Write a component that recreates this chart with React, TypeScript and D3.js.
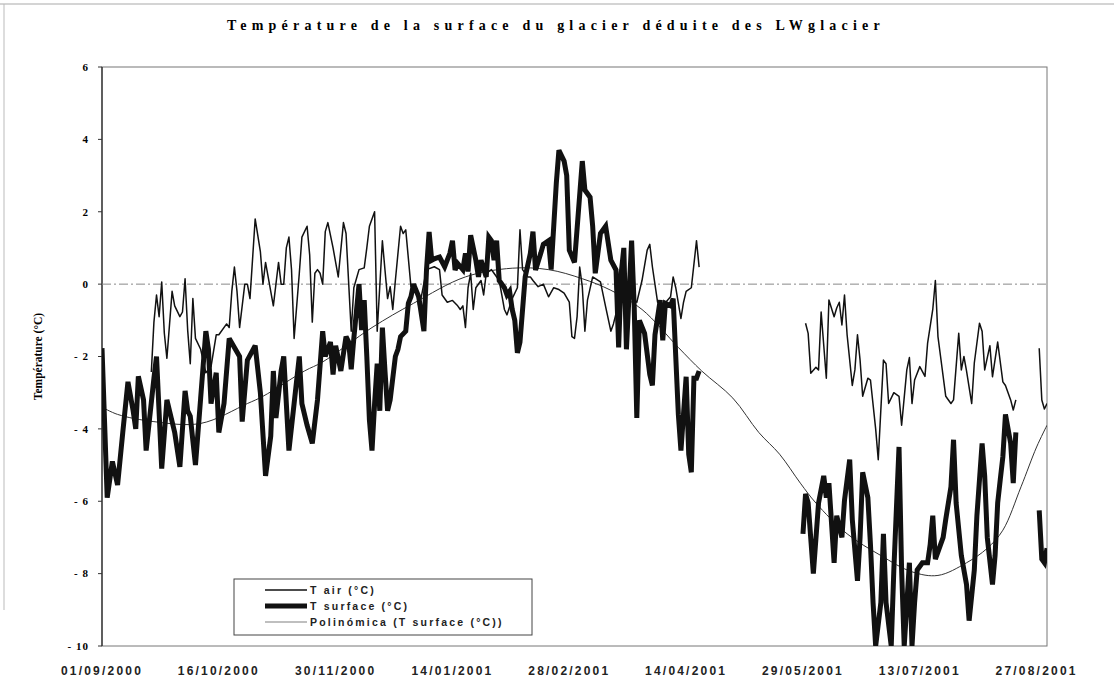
import React from "react";
import * as d3 from "d3";

const START = Date.UTC(2000, 8, 1);
const END = Date.UTC(2001, 7, 31);

const xTickLabels = ["01/09/2000", "16/10/2000", "30/11/2000", "14/01/2001", "28/02/2001", "14/04/2001", "29/05/2001", "13/07/2001", "27/08/2001"];
const yTicks = [6, 4, 2, 0, -2, -4, -6, -8, -10];

// [day offset from 01/09/2000, °C]
const tSurfaceSeg1: [number, number][] = [[0,-1.77],[2,-5.9],[4,-4.9],[6,-5.55],[8,-4.1],[10,-2.7],[12,-3.5],[13,-4.0],[14,-2.55],[16,-3.2],[17,-4.6],[20,-2.6],[21,-2.0],[23,-5.1],[25,-3.2],[26,-3.5],[28,-4.1],[30,-5.05],[32,-2.95],[33,-3.5],[34,-3.65],[36,-5.0],[38,-3.15],[40,-1.3],[41,-1.8],[42,-3.3],[44,-2.45],[45,-4.1],[47,-3.3],[49,-1.5],[51,-1.75],[53,-2.0],[54,-3.8],[56,-2.1],[59,-1.7],[61,-3.0],[63,-5.3],[65,-4.2],[66,-2.4],[67,-3.7],[69,-2.4],[70,-2.0],[72,-4.6],[74,-3.3],[76,-2.0],[77,-3.3],[79,-3.9],[81,-4.4],[83,-3.2],[85,-1.3],[86,-2.0],[88,-1.6],[89,-2.5],[90,-1.7],[92,-2.4],[94,-1.45],[95,-1.6],[96,-2.35],[97,-1.5],[99,0],[100,-1.27],[101,-0.44],[102,-2.0],[103,-3.75],[104,-4.6],[105,-3.3],[106,-2.2],[107,-3.5],[108,-1.2],[109,-2.4],[110,-3.5],[111,-3.2],[113,-2.0],[114,-1.8],[115,-1.45],[117,-1.3],[118,-0.53],[119,-0.35],[120,0],[122,-0.35],[124,-1.3],[125,0.4],[126,1.44],[127,0.66],[128,0.7],[130,0.75],[132,0.48],[134,0.85],[135,1.2],[136,0.39],[137,0.57],[139,0.4],[140,0.85],[141,0.35],[142,1.35],[144,0.66],[145,0.2],[146,0.66],[148,0.2],[149,1.3],[150,1.2],[151,0.66],[152,1.2],[153,0.1],[155,-0.1],[156,-0.3],[157,-0.2],[158,-0.7],[159,-1.0],[160,-1.9],[161,-1.6],[163,0.2],[165,0.85],[166,1.45],[167,0.39],[169,0.85],[170,1.1],[172,1.2],[173,0.4],[175,2.8],[176,3.7],[178,3.4],[179,3.0],[180,0.94],[182,0.6],[185,3.4],[186,2.6],[188,2.4],[189,1.6],[190,0.3],[192,1.4],[194,1.6],[196,0.66],[198,0.39],[199,-1.75],[200,0.3],[201,1.0],[202,-1.8],[204,1.2],[205,-0.63],[206,-3.7],[207,-1.0],[209,-1.36],[211,-2.5],[212,-2.8],[213,-1.4],[215,-0.44],[216,-1.55],[217,-0.53],[219,-0.6],[220,-0.4],[221,-2.0],[222,-3.6],[223,-4.6],[225,-2.56],[226,-4.7],[227,-5.2],[228,-2.6],[229,-2.6],[230,-2.4]];
const tSurfaceSeg2: [number, number][] = [[270,-6.9],[271,-5.8],[272,-6.05],[274,-8.0],[276,-6.05],[278,-5.3],[279,-5.9],[280,-5.5],[282,-7.7],[283,-6.4],[285,-7.0],[286,-5.97],[288,-4.85],[289,-6.5],[291,-8.2],[292,-7.0],[293,-5.2],[295,-5.9],[296,-7.2],[297,-8.8],[298,-10],[300,-8.8],[301,-6.9],[302,-8.8],[304,-10],[305,-7.9],[307,-4.5],[308,-7.9],[309,-10],[311,-7.7],[312,-10],[313,-8.8],[314,-7.9],[316,-7.7],[318,-7.7],[319,-7.2],[320,-6.4],[321,-7.6],[323,-7.2],[324,-7.0],[325,-6.5],[327,-5.6],[328,-4.3],[329,-6.05],[331,-7.5],[333,-8.3],[334,-9.3],[336,-7.9],[337,-6.4],[339,-4.4],[340,-5.3],[341,-7.0],[343,-8.3],[344,-7.5],[345,-6.05],[346,-5.4],[347,-4.77],[348,-3.6],[350,-4.4],[351,-5.5],[352,-4.1]];
const tSurfaceSeg3: [number, number][] = [[361,-6.25],[362,-7.6],[363,-7.7],[364,-7.3]];

const tAirSeg1: [number, number][] = [[19,-2.43],[20,-1.05],[21,-0.3],[22,-0.9],[23,0.06],[24,-1.35],[25,-2.05],[27,-0.2],[28,-0.6],[30,-0.9],[31,-0.77],[32,0.15],[33,-1.27],[34,-2.2],[35,-0.4],[36,-1.5],[38,-1.8],[40,-2.45],[42,-2.28],[44,-1.4],[45,-1.4],[48,-1.1],[49,-1.2],[50,-0.2],[51,0.47],[52,-0.2],[53,-1.2],[55,0],[56,0],[57,-0.4],[59,1.8],[61,0.9],[62,0],[63,0.6],[64,0.2],[66,-0.6],[67,0],[68,0.6],[69,0],[70,0],[71,1.0],[72,1.3],[73,0.4],[74,-1.5],[76,0.3],[77,1.3],[79,1.6],[80,0.8],[81,-1.05],[82,0.3],[83,0.4],[84,0.3],[85,0],[86,1.45],[87,1.7],[89,1.0],[91,0.2],[93,1.7],[94,1.4],[96,-1.3],[97,-0.1],[99,0.4],[101,0.45],[102,1.0],[103,1.6],[105,2.0],[106,-1.3],[108,1.2],[109,0.39],[110,-0.4],[111,-0.07],[112,-0.7],[113,0.1],[115,1.6],[116,1.4],[117,1.5],[119,-0.07],[121,-0.1],[122,-0.6],[123,-0.35],[125,0.4],[128,0.48],[130,0.4],[131,-0.3],[133,-0.5],[135,-0.45],[137,-0.6],[138,-0.7],[139,-0.6],[140,-1.2],[141,-0.1],[142,0.3],[143,-0.7],[144,-0.1],[146,0.1],[147,-0.3],[148,0.3],[150,0.4],[151,0.3],[153,0.1],[155,-0.7],[156,-0.85],[158,-0.4],[160,-0.1],[161,1.5],[162,0.4],[164,0.2],[165,0.2],[166,0.1],[168,-0.07],[170,0],[172,-0.35],[174,-0.1],[176,-0.15],[178,-0.25],[180,-0.5],[181,-1.45],[182,-1.5],[183,-0.9],[184,0.47],[185,-0.07],[186,-1.3],[187,-0.44],[189,0.2],[192,0.06],[194,-0.63],[196,-1.3],[197,-1.1],[199,-0.53],[201,-0.17],[202,-0.35],[204,-0.4],[206,-0.5],[208,0.1],[210,0.94],[211,1.1],[212,0.48],[214,-0.5],[216,-0.6],[219,-0.35],[220,0.2],[221,-0.1],[223,-0.95],[224,-0.5],[225,-0.2],[227,-0.1],[229,1.2],[230,0.47]];
const tAirSeg2: [number, number][] = [[271,-1.08],[272,-1.36],[273,-2.46],[275,-2.3],[276,-2.37],[277,-0.77],[279,-2.6],[280,-0.44],[282,-0.9],[283,-0.66],[284,-0.5],[285,-1.13],[286,-0.3],[287,-1.4],[289,-2.8],[290,-2.37],[291,-1.4],[292,-2.1],[293,-3.1],[295,-2.6],[296,-2.65],[298,-4.0],[299,-4.85],[301,-2.1],[302,-2.2],[303,-3.3],[305,-3.0],[307,-3.1],[308,-3.9],[310,-2.37],[311,-2.03],[312,-3.3],[313,-2.65],[315,-2.28],[317,-2.55],[318,-1.64],[320,-0.7],[321,0.1],[322,-1.45],[323,-2.0],[325,-3.1],[327,-3.3],[328,-3.2],[330,-1.36],[331,-2.37],[332,-2.0],[333,-2.4],[335,-3.3],[336,-2.18],[338,-1.08],[339,-1.3],[340,-2.37],[342,-1.7],[343,-2.56],[345,-1.6],[347,-2.7],[348,-2.8],[350,-3.2],[351,-3.48],[352,-3.2]];
const tAirSeg3: [number, number][] = [[361,-1.77],[362,-3.2],[363,-3.45],[364,-3.3]];

const polyTrend: [number, number][] = [[0,-3.4],[6,-3.6],[20,-3.8],[38,-3.85],[56,-3.3],[62,-3.1],[78,-2.4],[85,-2.15],[104,-1.2],[120,-0.53],[140,0.2],[158,0.44],[172,0.4],[185,0.15],[196,-0.17],[208,-0.7],[222,-1.75],[231,-2.4],[243,-3.15],[253,-4.1],[261,-4.7],[269,-5.5],[275,-6.05],[287,-6.9],[300,-7.5],[312,-7.95],[322,-8.05],[333,-7.7],[341,-7.3],[347,-6.8],[354,-5.6],[360,-4.5],[364,-3.9]];

const legendItems = [
  { label: "T air (°C)", width: 1.5, color: "#111" },
  { label: "T surface (°C)", width: 5, color: "#111" },
  { label: "Polinómica (T surface (°C))", width: 1.5, color: "#aaa" },
];

const PL = 102, PR = 1047, PT = 67, PB = 646;
const SERIF = "'Liberation Serif', 'Times New Roman', serif";
const SANS = "'Liberation Sans', Arial, sans-serif";

const dayToDate = (d: number) => new Date(START + d * 86400000);
const parseLabel = (s: string) => {
  const [dd, mm, yy] = s.split("/").map(Number);
  return new Date(Date.UTC(yy, mm - 1, dd));
};

export default function App() {
  const x = d3.scaleUtc().domain([new Date(START), new Date(END)]).range([PL, PR]);
  const y = d3.scaleLinear().domain([-10, 6]).range([PB, PT]);
  const line = d3.line<[number, number]>().x(d => x(dayToDate(d[0]))).y(d => y(d[1]));
  const trend = d3.line<[number, number]>().x(d => x(dayToDate(d[0]))).y(d => y(d[1])).curve(d3.curveCatmullRom.alpha(0.5));

  return (
    <svg width={1114} height={681} style={{ position: "absolute", left: 0, top: 0, background: "#fff" }}>
      <defs>
        <clipPath id="plotclip"><rect x={PL} y={PT} width={PR - PL} height={PB - PT} /></clipPath>
      </defs>
      <line x1={0} x2={1114} y1={4} y2={4} stroke="#aaa" strokeWidth={1.2} />
      <line x1={4} x2={4} y1={4} y2={610} stroke="#bbb" strokeWidth={1} />
      <text x={556} y={30} textAnchor="middle" fontFamily={SERIF} fontWeight="bold" fontSize={14} letterSpacing={5.2}>
        Température de la surface du glacier déduite des LWglacier
      </text>
      <text transform={`translate(42,${(PT + PB) / 2}) rotate(-90)`} textAnchor="middle" fontFamily={SERIF} fontWeight="bold" fontSize={11.5}>
        Température (°C)
      </text>
      <rect x={PL} y={PT} width={PR - PL} height={PB - PT} fill="#fff" stroke="#777" strokeWidth={1} />
      <line x1={PL} x2={PL} y1={PT} y2={PB} stroke="#222" strokeWidth={1.2} />
      <line x1={PL} x2={PR} y1={y(0)} y2={y(0)} stroke="#888" strokeWidth={1} strokeDasharray="9 3 2 3" />
      {yTicks.map(v => (
        <g key={v}>
          <line x1={PL - 4} x2={PL} y1={y(v)} y2={y(v)} stroke="#333" />
          <text x={89} y={y(v)} dy="0.35em" textAnchor="end" fontFamily={SERIF} fontWeight="bold" fontSize={11} letterSpacing={1}>
            {v < 0 ? `- ${Math.abs(v)}` : String(v)}
          </text>
        </g>
      ))}
      {xTickLabels.map(s => (
        <text key={s} x={x(parseLabel(s))} y={675} textAnchor="middle" fontFamily={SANS} fontWeight="bold" fontSize={12} letterSpacing={2.2} fill="#222">
          {s}
        </text>
      ))}
      <g clipPath="url(#plotclip)" fill="none">
        <path d={trend(polyTrend) ?? ""} stroke="#333" strokeWidth={1} />
        {[tAirSeg1, tAirSeg2, tAirSeg3].map((s, i) => (
          <path key={"a" + i} d={line(s) ?? ""} stroke="#111" strokeWidth={1.5} strokeLinejoin="round" />
        ))}
        {[tSurfaceSeg1, tSurfaceSeg2, tSurfaceSeg3].map((s, i) => (
          <path key={"s" + i} d={line(s) ?? ""} stroke="#111" strokeWidth={5} strokeLinejoin="miter" strokeMiterlimit={3} />
        ))}
      </g>
      <rect x={234} y={579} width={298} height={56} fill="#fff" stroke="#444" strokeWidth={1} />
      {legendItems.map((it, i) => (
        <g key={it.label}>
          <line x1={265} x2={307} y1={590 + i * 16} y2={590 + i * 16} stroke={it.color} strokeWidth={it.width} />
          <text x={310} y={590 + i * 16} dy="0.35em" fontFamily={SANS} fontWeight="bold" fontSize={10.5} letterSpacing={2.2} fill="#222">
            {it.label}
          </text>
        </g>
      ))}
    </svg>
  );
}
